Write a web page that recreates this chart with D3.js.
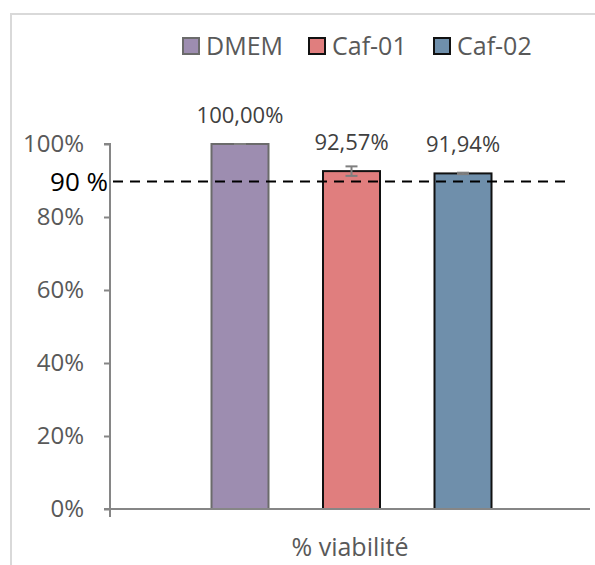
<!DOCTYPE html>
<html><head><meta charset="utf-8">
<script src="https://cdn.jsdelivr.net/npm/d3@7"></script>
<style>body{margin:0;background:#fff}svg{display:block}</style>
</head><body>
<script>
const categories = ["% viabilité"];
const series = ["DMEM", "Caf-01", "Caf-02"];
const values = [1.0, 0.9257, 0.9194];
const errors = [0.0, 0.013, 0.002];
const valueLabels = ["100,00%", "92,57%", "91,94%"];
const yTicks = [0, 0.2, 0.4, 0.6, 0.8, 1.0];
const threshold = 0.9;
const thresholdLabel = "90 %";
const fills = ["#9d8db0", "#e07e7e", "#6f8fab"];
const strokes = ["#6b6b6b", "#111111", "#111111"];

const W = 595, H = 565;
const svg = d3.select("body").append("svg").attr("width", W).attr("height", H);
const font = "'Open Sans', sans-serif";

// frame
svg.append("path").attr("d", `M11,${H} V14 H${W}`).attr("fill", "none").attr("stroke", "#d9d9d9").attr("stroke-width", 2);

const plot = {left: 110, right: 590, top: 144, bottom: 509};
const y = d3.scaleLinear().domain([0, 1]).range([plot.bottom, plot.top]);
const x0 = d3.scaleBand().domain(categories).range([plot.left, plot.right]);
const bandW = x0.bandwidth();
const xs = d3.scalePoint().domain(series).range([x0(categories[0]) + 130, x0(categories[0]) + bandW - 127]);
const barW = 57;

// y axis
const yAxis = d3.axisLeft(y).tickValues(yTicks).tickFormat(d3.format(".0%")).tickSize(6).tickPadding(20);
const gy = svg.append("g").attr("transform", `translate(${plot.left},0)`).call(yAxis);
gy.select(".domain").attr("stroke", "#868686").attr("stroke-width", 2).attr("d", `M-6,${plot.top}H0V${plot.bottom + 8}`);
gy.selectAll(".tick line").attr("stroke", "#868686").attr("stroke-width", 2);
gy.selectAll(".tick text").attr("fill", "#595959").attr("font-size", 24).attr("font-family", font);

// bars
const g = svg.append("g");
series.forEach((s, i) => {
  const cx = xs(s);
  g.append("rect").attr("x", cx - barW / 2).attr("y", y(values[i])).attr("width", barW)
    .attr("height", y(0) - y(values[i])).attr("fill", fills[i]).attr("stroke", strokes[i]).attr("stroke-width", 2);
  const e = errors[i];
  const eb = g.append("g").attr("stroke", "#7f7f7f").attr("stroke-width", 2);
  eb.append("line").attr("x1", cx).attr("x2", cx).attr("y1", y(values[i] + e)).attr("y2", y(values[i] - e));
  eb.append("line").attr("x1", cx - 6).attr("x2", cx + 6).attr("y1", y(values[i] + e)).attr("y2", y(values[i] + e));
  eb.append("line").attr("x1", cx - 6).attr("x2", cx + 6).attr("y1", y(values[i] - e)).attr("y2", y(values[i] - e));
  g.append("text").attr("x", cx).attr("y", y(values[i]) - 21).attr("text-anchor", "middle")
    .attr("fill", "#404040").attr("font-size", 22).attr("font-family", font).text(valueLabels[i]);
});

// x axis
svg.append("line").attr("x1", plot.left - 6).attr("x2", plot.right).attr("y1", y(0)).attr("y2", y(0))
  .attr("stroke", "#868686").attr("stroke-width", 2);
svg.append("text").attr("x", x0(categories[0]) + bandW / 2).attr("y", 556).attr("text-anchor", "middle")
  .attr("fill", "#595959").attr("font-size", 25).attr("font-family", font).text(categories[0]);

// threshold
svg.append("line").attr("x1", 113).attr("x2", 566).attr("y1", y(threshold) + 1).attr("y2", y(threshold) + 1)
  .attr("stroke", "#000").attr("stroke-width", 2).attr("stroke-dasharray", "10,7");
svg.append("text").attr("x", 108).attr("y", y(threshold) + 10).attr("text-anchor", "end")
  .attr("fill", "#000").attr("font-size", 26).attr("font-family", font).text(thresholdLabel);

// legend
const legX = [183, 309, 434];
series.forEach((s, i) => {
  svg.append("rect").attr("x", legX[i]).attr("y", 38).attr("width", 16).attr("height", 16)
    .attr("fill", fills[i]).attr("stroke", strokes[i]).attr("stroke-width", 2);
  svg.append("text").attr("x", legX[i] + 23).attr("y", 55).attr("fill", "#595959")
    .attr("font-size", 25).attr("font-family", font).text(s);
});
</script>
</body></html>
